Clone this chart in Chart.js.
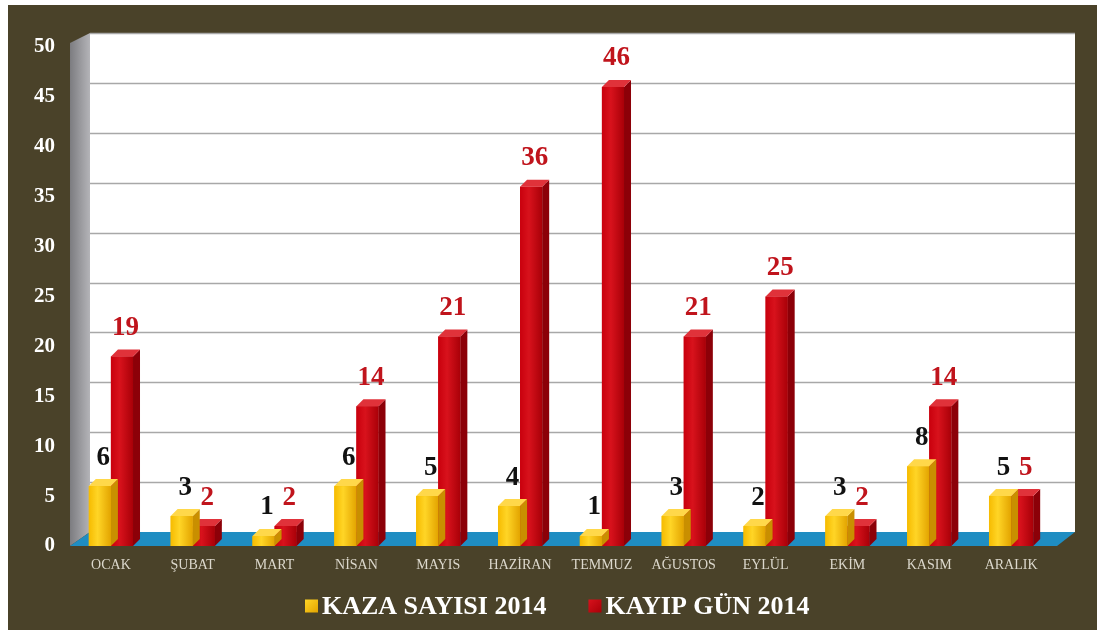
<!DOCTYPE html>
<html>
<head>
<meta charset="utf-8">
<script src="https://cdn.jsdelivr.net/npm/chart.js@4/dist/chart.umd.min.js"></script>
<style>
  body { margin: 0; background: #fff; }
  #frame { position: absolute; left: 8px; top: 5px; width: 1089px; height: 625px; background: #4a4229; }
  canvas { display: block; }
</style>
</head>
<body>
<div id="frame"><canvas id="chart" width="1089" height="625"></canvas></div>
<script>
const months = ['OCAK', 'ŞUBAT', 'MART', 'NİSAN', 'MAYIS', 'HAZİRAN', 'TEMMUZ', 'AĞUSTOS', 'EYLÜL', 'EKİM', 'KASIM', 'ARALIK']
const kazaSayisi = [6, 3, 1, 6, 5, 4, 1, 3, 2, 3, 8, 5]
const kayipGun = [19, 2, 2, 14, 21, 36, 46, 21, 25, 2, 14, 5]
const yMax = 50
const yStep = 5

// depth of the back wall and of each bar
const DX = 20, DY = -14
const BX = 7, BY = -7

const faces = [
  { front: '#f6bb00', light: '#ffd526', dark: '#e3a400', side: '#c98f00', top: '#ffd84a', label: '#111' },
  { front: '#c9000d', light: '#d8121c', dark: '#a90008', side: '#8c0008', top: '#e0323a', label: '#c0141c' }
]

const scene = {
  id: 'scene',
  beforeDatasetsDraw(chart) {
    const { ctx, chartArea: a, scales: { y } } = chart
    const top = y.getPixelForValue(yMax)
    const base = y.getPixelForValue(0)
    ctx.save()
    // back wall
    ctx.fillStyle = '#ffffff'
    ctx.fillRect(a.left + DX, top + DY, a.right - a.left + 3, base - top)
    // gridlines sit on the back wall
    ctx.strokeStyle = '#a8a8a8'
    ctx.lineWidth = 1.5
    y.ticks.forEach(t => {
      if (t.value === 0) return
      const py = Math.round(y.getPixelForValue(t.value) + DY) + 0.5
      ctx.beginPath()
      ctx.moveTo(a.left + DX, py)
      ctx.lineTo(a.right + DX + 3, py)
      ctx.stroke()
    })
    // left wall
    const g = ctx.createLinearGradient(a.left, 0, a.left + DX, 0)
    g.addColorStop(0, '#7c7c80')
    g.addColorStop(1, '#b4b4b8')
    ctx.fillStyle = g
    ctx.beginPath()
    ctx.moveTo(a.left, top - 4)
    ctx.lineTo(a.left + DX, top + DY)
    ctx.lineTo(a.left + DX, base + DY)
    ctx.lineTo(a.left, base)
    ctx.closePath()
    ctx.fill()
    // floor
    ctx.fillStyle = '#1f8dc2'
    ctx.beginPath()
    ctx.moveTo(a.left, base)
    ctx.lineTo(a.left + DX, base + DY)
    ctx.lineTo(a.right + DX + 3, base + DY)
    ctx.lineTo(a.right + 5, base)
    ctx.closePath()
    ctx.fill()
    ctx.restore()
  },
  afterDatasetDraw(chart, args) {
    const { ctx } = chart
    const f = faces[args.index]
    ctx.save()
    args.meta.data.forEach(el => {
      const l = el.x - el.width / 2
      const r = el.x + el.width / 2
      // shade the front face
      const g = ctx.createLinearGradient(l, 0, r, 0)
      g.addColorStop(0, f.front)
      g.addColorStop(0.4, f.light)
      g.addColorStop(1, f.dark)
      ctx.fillStyle = g
      ctx.fillRect(l, el.y, r - l, el.base - el.y)
      ctx.fillStyle = f.side
      ctx.beginPath()
      ctx.moveTo(r, el.y)
      ctx.lineTo(r + BX, el.y + BY)
      ctx.lineTo(r + BX, el.base + BY)
      ctx.lineTo(r, el.base)
      ctx.closePath()
      ctx.fill()
      ctx.fillStyle = f.top
      ctx.beginPath()
      ctx.moveTo(l, el.y)
      ctx.lineTo(l + BX, el.y + BY)
      ctx.lineTo(r + BX, el.y + BY)
      ctx.lineTo(r, el.y)
      ctx.closePath()
      ctx.fill()
    })
    ctx.restore()
  },
  afterDatasetsDraw(chart) {
    const { ctx } = chart
    ctx.save()
    ctx.font = 'bold 27px "Liberation Serif"'
    ctx.textAlign = 'center'
    ctx.textBaseline = 'bottom'
    chart.data.datasets.forEach((ds, i) => {
      ctx.fillStyle = faces[i].label
      chart.getDatasetMeta(i).data.forEach((el, j) => {
        ctx.fillText(ds.data[j], el.x + BX / 2, el.y + BY - 8)
      })
    })
    ctx.restore()
  },
  afterDraw(chart) {
    // legend row under the month names
    const { ctx, width } = chart
    const box = 13, gap = 4, spacing = 42, cy = 601
    ctx.save()
    ctx.font = 'bold 26px "Liberation Serif"'
    ctx.textBaseline = 'middle'
    const items = chart.data.datasets.map((ds, i) => ({ text: ds.label, f: faces[i], w: ctx.measureText(ds.label).width }))
    const total = items.reduce((s, it) => s + box + gap + it.w, 0) + spacing * (items.length - 1)
    let x = Math.round(width / 2 + 5 - total / 2)
    items.forEach(it => {
      const g = ctx.createLinearGradient(x, cy - box / 2, x + box, cy + box / 2)
      g.addColorStop(0, it.f.light)
      g.addColorStop(1, it.f.dark)
      ctx.fillStyle = g
      ctx.fillRect(x, cy - box / 2, box, box)
      x += box + gap
      ctx.fillStyle = '#ffffff'
      ctx.fillText(it.text, x, cy + 1)
      x += it.w + spacing
    })
    ctx.restore()
  }
}

new Chart(document.getElementById('chart'), {
  type: 'bar',
  data: {
    labels: months,
    datasets: [
      { label: 'KAZA SAYISI 2014', data: kazaSayisi, backgroundColor: faces[0].front },
      { label: 'KAYIP GÜN 2014', data: kayipGun, backgroundColor: faces[1].front }
    ]
  },
  options: {
    responsive: false,
    animation: false,
    categoryPercentage: 0.54,
    barPercentage: 1,
    layout: { padding: { left: 0, top: 42, right: 0, bottom: 0 } },
    scales: {
      x: {
        grid: { display: false, drawTicks: false },
        border: { display: false },
        afterFit(scale) { scale.height = 84 },
        ticks: {
          color: '#dcd8cc',
          font: { family: 'Liberation Serif', size: 14 },
          padding: 11,
          maxRotation: 0,
          autoSkip: false
        }
      },
      y: {
        min: 0,
        max: yMax,
        grid: { display: false, drawTicks: false },
        border: { display: false },
        afterFit(scale) { scale.width = 62 },
        ticks: {
          stepSize: yStep,
          color: '#ffffff',
          padding: 15,
          font: { family: 'Liberation Serif', size: 21, weight: 'bold' }
        }
      },
      // empty strip on the right, keeps room for the depth of the walls
      edge: {
        position: 'right',
        grid: { display: false, drawTicks: false },
        border: { display: false },
        ticks: { display: false },
        afterFit(scale) { scale.width = 45 }
      }
    },
    plugins: {
      tooltip: { enabled: false },
      legend: { display: false }
    }
  },
  plugins: [scene]
})
</script>
</body>
</html>
